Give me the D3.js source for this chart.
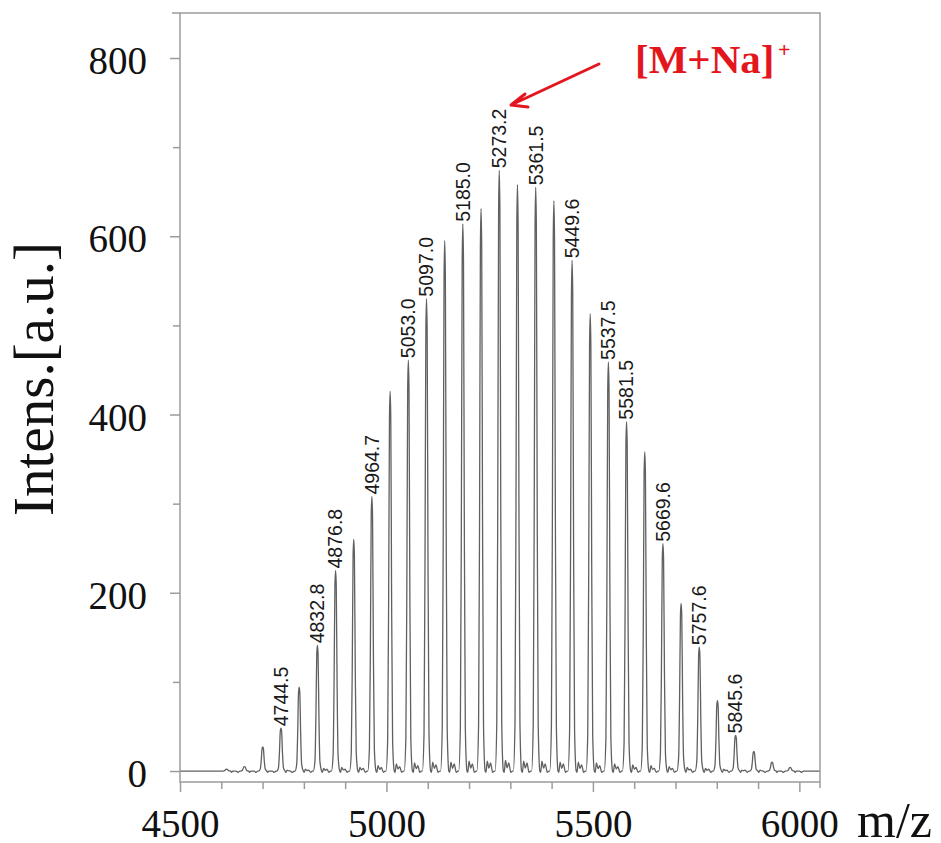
<!DOCTYPE html>
<html>
<head>
<meta charset="utf-8">
<script src="https://cdn.jsdelivr.net/npm/d3@7"></script>
<style>
  body { margin: 0; background: #fff; }
</style>
</head>
<body>
<div id="chart"></div>
<script>
var width = 941,
    height = 843;

// oligomer series, spaced ~44 Da (m/z, intensity a.u.)
var peakMz = [4612.8, 4656.2, 4700.4, 4744.5, 4788.6, 4832.8, 4876.8, 4920.8,
              4964.7, 5008.9, 5053.0, 5097.0, 5141.1, 5185.0, 5229.1, 5273.2,
              5317.3, 5361.5, 5405.5, 5449.6, 5493.5, 5537.5, 5581.5, 5625.6,
              5669.6, 5713.6, 5757.6, 5801.6, 5845.6, 5889.7, 5933.7, 5977.7];
var peakInt = [2, 5, 27, 48, 94, 141, 225, 260,
               308, 426, 461, 530, 595, 614, 631, 674,
               658, 655, 640, 573, 513, 459, 392, 358,
               255, 188, 139, 79, 40, 22, 10, 4];
// small baseline shoulders after each peak (+14 and +24 Da)
var shoulderA = [0, 0, 0, 1, 2, 3, 4, 4, 6, 8, 9, 10, 10, 11, 11, 12,
                 11, 11, 10, 10, 9, 8, 7, 6, 5, 4, 3, 2, 1, 1, 0, 0];
var shoulderB = [0, 0, 0, 0, 1, 2, 2, 3, 4, 5, 6, 7, 8, 8, 9, 9,
                 9, 8, 8, 7, 6, 5, 4, 3, 3, 2, 2, 1, 1, 0, 0, 0];
// annotated peaks
var labeled = ["4744.5", "4832.8", "4876.8", "4964.7", "5053.0", "5097.0", "5185.0",
               "5273.2", "5361.5", "5449.6", "5537.5", "5581.5", "5669.6", "5757.6", "5845.6"];

var yMajor = [0, 200, 400, 600, 800],
    yMinor = [100, 300, 500, 700],
    xMajor = [4500, 5000, 5500, 6000],
    xMinor = [4600, 4700, 4800, 4900, 5100, 5200, 5300, 5400, 5600, 5700, 5800, 5900];

var svg = d3.select("#chart").append("svg")
    .attr("width", width)
    .attr("height", height);

svg.append("rect")
    .attr("width", width)
    .attr("height", height)
    .attr("fill", "#fff");

var x = d3.scaleLinear().domain([4500, 6050]).range([180, 820]),
    y = d3.scaleLinear().domain([-12.3, 850.5]).range([782, 13]);

var serif = "'Liberation Serif', 'Times New Roman', serif",
    sans = "'Liberation Sans', Arial, sans-serif",
    frameColor = "#9c9c9c";

// profile of one peak, offsets in Da and fraction of height
var shape = [[-10, 0], [-6, 0.08], [-3.6, 0.45], [-1.6, 0.93], [0, 1],
             [1.6, 0.93], [3.6, 0.45], [6, 0.08], [10, 0]];

var pts = [[4500, 0]];
peakMz.forEach(function(m, i) {
    shape.forEach(function(s) {
        pts.push([m + s[0], peakInt[i] * s[1]]);
    });
    pts.push([m + 12, -1.5]);
    pts.push([m + 15, shoulderA[i]]);
    pts.push([m + 19, shoulderA[i] * 0.3]);
    pts.push([m + 23, shoulderB[i]]);
    pts.push([m + 28, -1.5]);
    pts.push([m + 32, 0]);
});
pts.push([6050, 0]);
pts.sort(function(a, b) { return a[0] - b[0]; });

var line = d3.line()
    .x(function(d) { return x(d[0]); })
    .y(function(d) { return y(d[1]); })
    .curve(d3.curveMonotoneX);

svg.append("path")
    .datum(pts)
    .attr("d", line)
    .attr("fill", "none")
    .attr("stroke", "#606060")
    .attr("stroke-width", 1.3)
    .attr("stroke-linejoin", "round");

// frame
svg.append("path")
    .attr("d", "M172," + y(850.5) + "H" + x(6050) + "V" + (y(-12.3) + 6) +
               "M" + x(6050) + "," + y(-12.3) + "H" + x(4500) + "V" + y(850.5))
    .attr("fill", "none")
    .attr("stroke", frameColor)
    .attr("stroke-width", 1.5);

// y axis
var yAxis = svg.append("g")
    .attr("transform", "translate(" + x(4500) + ",0)")
    .call(d3.axisLeft(y).tickValues(yMajor).tickSize(10).tickPadding(23).tickFormat(d3.format("d")));
svg.append("g")
    .attr("transform", "translate(" + x(4500) + ",0)")
    .call(d3.axisLeft(y).tickValues(yMinor).tickSize(7).tickFormat(""));

// x axis
var xAxis = svg.append("g")
    .attr("transform", "translate(0," + y(-12.3) + ")")
    .call(d3.axisBottom(x).tickValues(xMajor).tickSize(10).tickPadding(17).tickFormat(d3.format("d")));
svg.append("g")
    .attr("transform", "translate(0," + y(-12.3) + ")")
    .call(d3.axisBottom(x).tickValues(xMinor).tickSize(7).tickFormat(""));

svg.selectAll(".domain").remove();
svg.selectAll(".tick line")
    .attr("stroke", frameColor)
    .attr("stroke-width", 1.5);
svg.selectAll(".tick text")
    .attr("fill", "#111")
    .style("font-family", serif)
    .style("font-size", "39px");
yAxis.selectAll(".tick text").attr("y", 3);

// axis titles
svg.append("text")
    .attr("transform", "translate(53,379) rotate(-90)")
    .attr("text-anchor", "middle")
    .attr("fill", "#111")
    .style("font-family", serif)
    .style("font-size", "57px")
    .text("Intens.[a.u.]");

svg.append("text")
    .attr("x", 857)
    .attr("y", 837)
    .attr("fill", "#111")
    .style("font-family", serif)
    .style("font-size", "50px")
    .text("m/z");

// peak labels
svg.append("g")
    .selectAll("text")
    .data(labeled)
    .enter().append("text")
    .attr("transform", function(d) {
        var i = peakMz.findIndex(function(m) { return Math.abs(m - +d) < 0.05; });
        return "translate(" + x(+d) + "," + (y(peakInt[i]) - 2) + ") rotate(-90)";
    })
    .attr("dy", "0.35em")
    .attr("fill", "#1a1a1a")
    .style("font-family", sans)
    .style("font-size", "19.5px")
    .text(function(d) { return d; });

// [M+Na]+ annotation
var red = "#e3161e";
svg.append("path")
    .attr("d", "M599,64L511,105M525,94L511,105L528,107")
    .attr("fill", "none")
    .attr("stroke", red)
    .attr("stroke-width", 3)
    .attr("stroke-linecap", "round")
    .attr("stroke-linejoin", "round");

svg.append("text")
    .attr("x", 635)
    .attr("y", 73)
    .attr("fill", red)
    .style("font-family", serif)
    .style("font-weight", "bold")
    .style("font-size", "41px")
    .text("[M+Na]");
svg.append("text")
    .attr("x", 778)
    .attr("y", 57)
    .attr("fill", red)
    .style("font-family", serif)
    .style("font-weight", "bold")
    .style("font-size", "22px")
    .text("+");
</script>
</body>
</html>
